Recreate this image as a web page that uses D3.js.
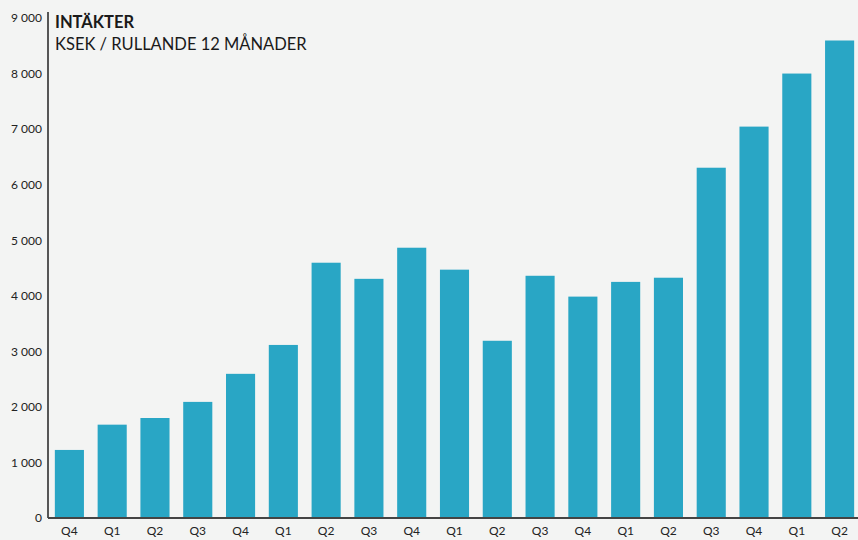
<!DOCTYPE html>
<html>
<head>
<meta charset="utf-8">
<script src="https://cdn.jsdelivr.net/npm/d3@7"></script>
<style>
  body { margin: 0; background: #f3f4f3; }
  svg { display: block; font-family: Lato, "Open Sans", sans-serif; }
</style>
</head>
<body>
<svg width="858" height="540"></svg>
<script>
// Quarters and revenue (KSEK, rolling 12 months)
const quarters = ["Q4", "Q1", "Q2", "Q3", "Q4", "Q1", "Q2", "Q3", "Q4", "Q1",
                  "Q2", "Q3", "Q4", "Q1", "Q2", "Q3", "Q4", "Q1", "Q2"];
const revenue = [1225, 1680, 1800, 2090, 2595, 3115, 4595, 4305, 4865, 4470,
                 3190, 4360, 3985, 4250, 4325, 6305, 7045, 8000, 8595];
const yTicks = [0, 1000, 2000, 3000, 4000, 5000, 6000, 7000, 8000, 9000];

const data = quarters.map((q, i) => ({ i, q, v: revenue[i] }));

const svg = d3.select("svg");
const marginLeft = 48, baseY = 518, topY = 18;

// Scales
const x = d3.scaleBand()
  .domain(data.map(d => d.i))
  .range([marginLeft, 861])
  .paddingInner(0.32)
  .paddingOuter(0.16);

const y = d3.scaleLinear()
  .domain([0, 9000])
  .range([baseY, topY]);

const fmt = v => d3.format(",")(v).replace(/,/g, " ");

// Bars
svg.selectAll("rect.bar")
  .data(data)
  .enter().append("rect")
  .attr("class", "bar")
  .attr("x", d => x(d.i))
  .attr("y", d => y(d.v))
  .attr("width", x.bandwidth())
  .attr("height", d => baseY - y(d.v))
  .style("fill", "#29a6c5");

// Y axis
const yAxis = svg.append("g")
  .attr("transform", `translate(${marginLeft},0)`)
  .call(d3.axisLeft(y).tickValues(yTicks).tickFormat(fmt).tickSize(0).tickPadding(6));
yAxis.select(".domain").remove();
yAxis.selectAll("text")
  .style("font-family", "Lato, sans-serif")
  .style("font-size", "12px")
  .style("fill", "#222");

svg.append("line")
  .attr("x1", marginLeft).attr("x2", marginLeft)
  .attr("y1", 12).attr("y2", baseY)
  .style("stroke", "#222")
  .style("stroke-width", 1.5);

// X axis
const xAxis = svg.append("g")
  .attr("transform", `translate(0,${baseY})`)
  .call(d3.axisBottom(x).tickFormat(i => quarters[i]).tickSize(0).tickPadding(8));
xAxis.select(".domain").remove();
xAxis.selectAll("text")
  .style("font-family", "Lato, sans-serif")
  .style("font-size", "12px")
  .style("fill", "#222");

svg.append("line")
  .attr("x1", marginLeft).attr("x2", 858)
  .attr("y1", baseY).attr("y2", baseY)
  .style("stroke", "#444")
  .style("stroke-width", 2);

// Title
svg.append("text")
  .attr("x", 55).attr("y", 28)
  .style("font-size", "16.5px")
  .style("font-weight", "bold")
  .style("fill", "#1a1a1a")
  .text("INTÄKTER");

svg.append("text")
  .attr("x", 55).attr("y", 50)
  .style("font-size", "16.5px")
  .style("fill", "#1a1a1a")
  .text("KSEK / RULLANDE 12 MÅNADER");
</script>
</body>
</html>
